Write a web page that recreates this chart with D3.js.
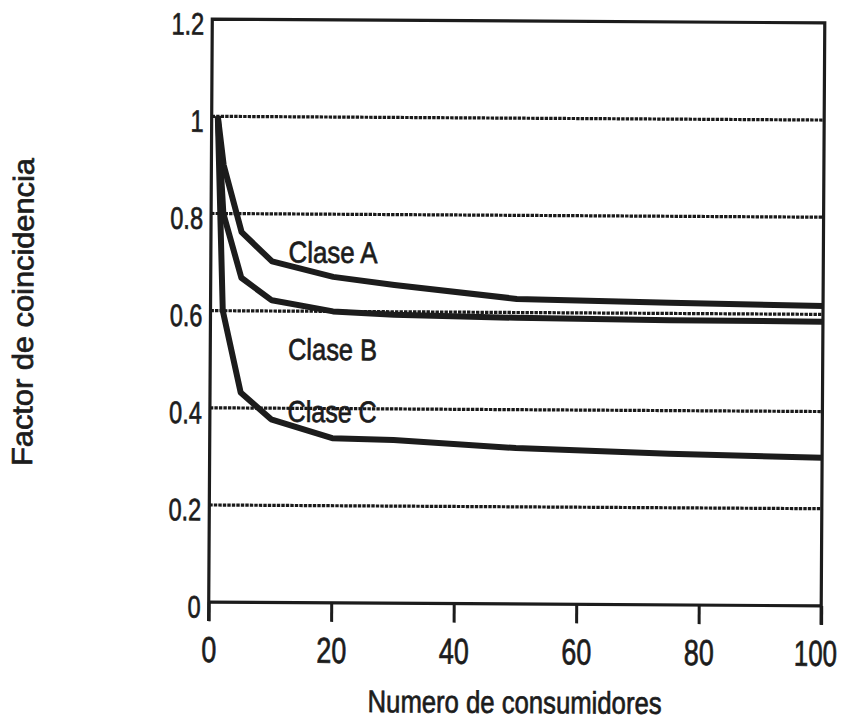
<!DOCTYPE html>
<html>
<head>
<meta charset="utf-8">
<script src="https://cdn.jsdelivr.net/npm/d3@7"></script>
<style>
  html, body { margin: 0; padding: 0; background: #fff; }
  svg { display: block; }
  text { font-family: "Liberation Sans", Arial, sans-serif; fill: #1c1c1c; stroke: #1c1c1c; stroke-width: 0.7px; }
</style>
</head>
<body>
<script>
// Coincidence factor versus number of consumers, three consumer classes
const consumers = [1, 2, 5, 10, 20, 30, 50, 75, 100];
const claseA = [1.0, 0.90, 0.762, 0.702, 0.671, 0.655, 0.628, 0.622, 0.617];
const claseB = [1.0, 0.80, 0.668, 0.622, 0.600, 0.594, 0.589, 0.586, 0.585];
const claseC = [1.0, 0.60, 0.432, 0.377, 0.339, 0.336, 0.321, 0.311, 0.305];
const seriesNames = ["Clase A", "Clase B", "Clase C"];

const xTicks = [0, 20, 40, 60, 80, 100];
const yTicks = [0, 0.2, 0.4, 0.6, 0.8, 1.0, 1.2];
const yTickLabels = ["0", "0.2", "0.4", "0.6", "0.8", "1", "1.2"];
const gridValues = [0.2, 0.4, 0.6, 0.8, 1.0];
const xTitle = "Numero de consumidores";
const yTitle = "Factor de coincidencia";

const W = 841, H = 721;
const svg = d3.select("body").append("svg").attr("width", W).attr("height", H);

const x = d3.scaleLinear().domain([0, 100]).range([210.5, 823]);
const y = d3.scaleLinear().domain([0, 1.2]).range([604, 21]);

const ink = "#1c1c1c";

// whole plate is slightly skewed on the page
const g = svg.append("g").attr("transform", "rotate(0.35, 516, 313)");

// dotted horizontal guides
g.append("g").selectAll("line").data(gridValues).join("line")
  .attr("x1", x(0)).attr("x2", x(100))
  .attr("y1", d => y(d)).attr("y2", d => y(d))
  .attr("stroke", "#1a1a1a").attr("stroke-width", 3.2)
  .attr("stroke-dasharray", "3.4,1.1");

// bottom axis with downward ticks; narrow plotter-style digits
const xAxis = d3.axisBottom(x).tickValues(xTicks).tickSize(19).tickPadding(0)
  .tickFormat(d3.format("d"));
const gx = g.append("g").attr("transform", `translate(0,${y(0)})`).call(xAxis);
gx.select(".domain").attr("stroke", ink).attr("stroke-width", 3.2).attr("d", `M${x(0)},0H${x(100)}`);
gx.selectAll(".tick line").attr("stroke", ink).attr("stroke-width", 3);
gx.selectAll(".tick text")
  .attr("font-size", 36).attr("x", 0).attr("y", 0).attr("dy", 0)
  .attr("transform", d => `translate(${d === 100 ? -6 : 0},60) scale(${d === 100 ? 0.72 : 0.75},1)`)
  .style("font-family", "'Liberation Sans', Arial, sans-serif")
  .attr("fill", ink);

// left axis: labels only, frame drawn below
const yAxis = d3.axisLeft(y).tickValues(yTicks).tickSize(0).tickPadding(8)
  .tickFormat((d, i) => yTickLabels[i]);
const gy = g.append("g").attr("transform", `translate(${x(0)},0)`).call(yAxis);
gy.select(".domain").remove();
gy.selectAll(".tick text")
  .attr("font-size", 31).attr("x", 0).attr("dy", 0)
  .attr("transform", "translate(-8,15) scale(0.76,1)")
  .style("font-family", "'Liberation Sans', Arial, sans-serif")
  .attr("fill", ink);

// frame: left, top and right borders
g.append("path")
  .attr("d", `M${x(0)},${y(0) + 19}V${y(1.2)}H${x(100)}V${y(0) + 19}`)
  .attr("fill", "none").attr("stroke", ink).attr("stroke-width", 3.2)
  .attr("stroke-linejoin", "miter");

// curves
const line = d3.line().x(d => x(d[0])).y(d => y(d[1]));
const series = [claseA, claseB, claseC].map(vals => consumers.map((c, i) => [c, vals[i]]));
g.append("g").selectAll("path").data(series).join("path")
  .attr("d", line)
  .attr("fill", "none").attr("stroke", ink).attr("stroke-width", 6)
  .attr("stroke-linejoin", "round").attr("stroke-linecap", "butt");

// class labels
const labelPos = [[12.7, 0.70], [12.7, 0.50], [12.7, 0.372]];
g.append("g").selectAll("text").data(seriesNames).join("text")
  .attr("x", (d, i) => x(labelPos[i][0]))
  .attr("y", (d, i) => y(labelPos[i][1]))
  .attr("font-size", 30)
  .attr("textLength", 89).attr("lengthAdjust", "spacingAndGlyphs")
  .text(d => d);

// axis titles
g.append("text")
  .attr("x", 517).attr("y", 713)
  .attr("text-anchor", "middle").attr("font-size", 31)
  .attr("textLength", 294).attr("lengthAdjust", "spacingAndGlyphs")
  .text(xTitle);

g.append("text")
  .attr("transform", "translate(33,315) rotate(-90)")
  .attr("text-anchor", "middle").attr("font-size", 29)
  .attr("textLength", 308).attr("lengthAdjust", "spacingAndGlyphs")
  .text(yTitle);
</script>
</body>
</html>
